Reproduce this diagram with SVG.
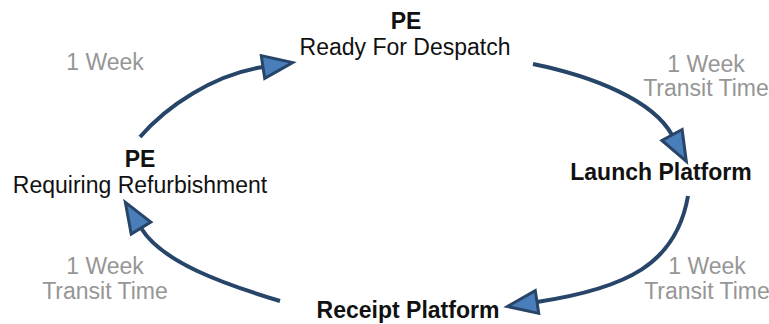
<svg xmlns="http://www.w3.org/2000/svg" width="769" height="324" viewBox="0 0 769 324">
  <style>
    text { font-family: "Liberation Sans", Arial, sans-serif; font-size: 23px; text-anchor: middle; }
    .title { font-weight: bold; fill: #111; }
    .sub { fill: #111; }
    .lbl { fill: #969696; }
    .conn { fill: none; stroke: #274568; stroke-width: 4; marker-end: url(#arrow); }
  </style>
  <defs>
    <marker id="arrow" markerUnits="userSpaceOnUse" markerWidth="40" markerHeight="40" refX="0" refY="0" orient="auto" overflow="visible">
      <path d="M0,-11.5 L30,0 L0,11.5 Z" fill="#4a7ebb" stroke="#274568" stroke-width="3" stroke-linejoin="miter"/>
    </marker>
  </defs>
  <rect width="769" height="324" fill="#fff"/>

  <g id="connectors">
    <g id="c-refurb-to-ready">
      <path class="conn" d="M140,137 C166,106.6 213.5,74.5 263,67"/>
      <text class="lbl" x="105" y="70">1 Week</text>
    </g>
    <g id="c-ready-to-launch">
      <path class="conn" d="M533,64 C592,76 653,100 672,135"/>
      <text class="lbl" x="706" y="72">1 Week</text>
      <text class="lbl" x="706" y="96">Transit Time</text>
    </g>
    <g id="c-launch-to-receipt">
      <path class="conn" d="M688,196 C676,264.6 626,288.5 537,302"/>
      <text class="lbl" x="707" y="274">1 Week</text>
      <text class="lbl" x="707" y="299">Transit Time</text>
    </g>
    <g id="c-receipt-to-refurb">
      <path class="conn" d="M280,301 C222.4,283.6 161.8,262 141,228"/>
      <text class="lbl" x="105" y="274">1 Week</text>
      <text class="lbl" x="105" y="299">Transit Time</text>
    </g>
  </g>

  <g id="node-ready">
    <text class="title" x="406" y="29">PE</text>
    <text class="sub" x="405" y="55">Ready For Despatch</text>
  </g>
  <g id="node-launch">
    <text class="title" x="661" y="180">Launch Platform</text>
  </g>
  <g id="node-receipt">
    <text class="title" x="408" y="318">Receipt Platform</text>
  </g>
  <g id="node-refurb">
    <text class="title" x="140" y="167">PE</text>
    <text class="sub" x="140" y="193">Requiring Refurbishment</text>
  </g>
</svg>
